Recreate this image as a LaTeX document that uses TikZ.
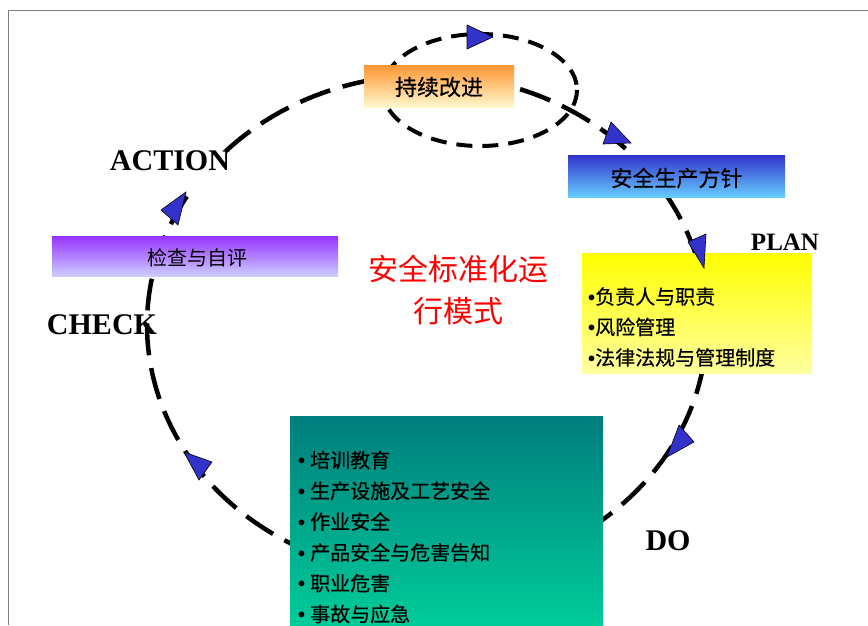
\documentclass[tikz,border=0pt]{standalone}
\usepackage{fontspec}
\newfontfamily\cjk[FakeBold=0.5]{Noto Sans CJK SC}
\newfontfamily\cjkr{Noto Sans CJK SC}
\newfontfamily\lab{Liberation Serif}
\newfontfamily\bul{Liberation Sans}
\newcommand{\bt}{{\bul\bfseries •}}
\definecolor{arrowblue}{HTML}{3333CC}
\definecolor{frameg}{HTML}{808080}
\begin{document}
\begin{tikzpicture}[x=1pt,y=-1pt,
  boxn/.style={rectangle, inner sep=0pt, outer sep=0pt, draw=none},
  boxtxt/.style={font=\cjk\fontsize{22}{26}\selectfont, inner sep=0pt},
  listtxt/.style={font=\cjk\fontsize{20}{30.5}\selectfont, align=left, anchor=west, inner sep=0pt},
  lbl/.style={font=\lab\bfseries\fontsize{30}{30}\selectfont, inner sep=0pt},
  tri/.style={fill=arrowblue, draw=black, line width=0.6pt, line join=miter},
  maincyc/.style={line width=4.5pt, dash pattern=on 32pt off 13pt},
  smallcyc/.style={line width=4pt, dash pattern=on 16pt off 10pt}]
\useasboundingbox (0,0) rectangle (868,625);
\fill[white] (0,0) rectangle (868,625);
% frame
\draw[frameg, line width=1.8pt] (8.5,625) -- (8.5,10.5) -- (868,10.5);
% cycles
\draw[maincyc] (427,325) ++(224:280 and 250) arc[start angle=224, end angle=572, x radius=280, y radius=250];
\draw[smallcyc] (480,90) ellipse [x radius=97, y radius=56];
% boxes
\node[boxn, minimum width=150pt, minimum height=42pt, top color={rgb,255:red,255;green,150;blue,50}, bottom color={rgb,255:red,255;green,248;blue,205}] (kaizen) at (439,86) {};
\node[boxtxt] (kaizent) at (439,87) {持续改进};
\node[boxn, minimum width=217pt, minimum height=42pt, top color={rgb,255:red,51;green,51;blue,204}, bottom color={rgb,255:red,102;green,204;blue,255}] (policy) at (676.5,176) {};
\node[boxtxt] (policyt) at (676.5,178) {安全生产方针};
\node[boxn, minimum width=230pt, minimum height=120pt, top color={rgb,255:red,255;green,255;blue,0}, bottom color={rgb,255:red,255;green,255;blue,160}] (plan) at (697,313) {};
\node[listtxt] (plant) at (588,327) {\bt 负责人与职责\\\bt 风险管理\\\bt 法律法规与管理制度};
\node[boxn, minimum width=286pt, minimum height=40pt, top color={rgb,255:red,150;green,50;blue,255}, bottom color={rgb,255:red,205;green,205;blue,255}] (check) at (195,256) {};
\node[font=\cjkr\fontsize{20}{24}\selectfont, inner sep=0pt] (checkt) at (197,258) {检查与自评};
\node[boxn, minimum width=313pt, minimum height=209pt, top color={rgb,255:red,0;green,125;blue,125}, bottom color={rgb,255:red,0;green,204;blue,153}] (do) at (446.5,520.5) {};
\node[listtxt, font=\cjk\fontsize{20}{30.8}\selectfont] (dot) at (298,537) {\bt\hspace{5pt}培训教育\\\bt\hspace{5pt}生产设施及工艺安全\\\bt\hspace{5pt}作业安全\\\bt\hspace{5pt}产品安全与危害告知\\\bt\hspace{5pt}职业危害\\\bt\hspace{5pt}事故与应急};
% centre title
\node[font=\cjkr\fontsize{30}{42}\selectfont, text=red, align=center, inner sep=0pt] (title) at (458,290) {安全标准化运\\行模式};
% labels
\node[lbl] (action) at (170,161) {ACTION};
\node[lbl] (checkl) at (102,325) {CHECK};
\node[lbl] (dol) at (668,541) {DO};
\node[lbl, font=\lab\bfseries\fontsize{25}{25}\selectfont] (planl) at (785,242) {PLAN};
% arrowheads
\draw[tri] (467,25) -- (467,49) -- (493,37) -- cycle;
\draw[tri] (611,122) -- (603,144) -- (631,143) -- cycle;
\draw[tri] (688,242) -- (706,234) -- (704,268) -- cycle;
\draw[tri] (679,425) -- (694,442) -- (667,457) -- cycle;
\draw[tri] (184,452) -- (212,462) -- (199,480) -- cycle;
\draw[tri] (161,210) -- (186,192) -- (178,225) -- cycle;
\end{tikzpicture}
\end{document}
